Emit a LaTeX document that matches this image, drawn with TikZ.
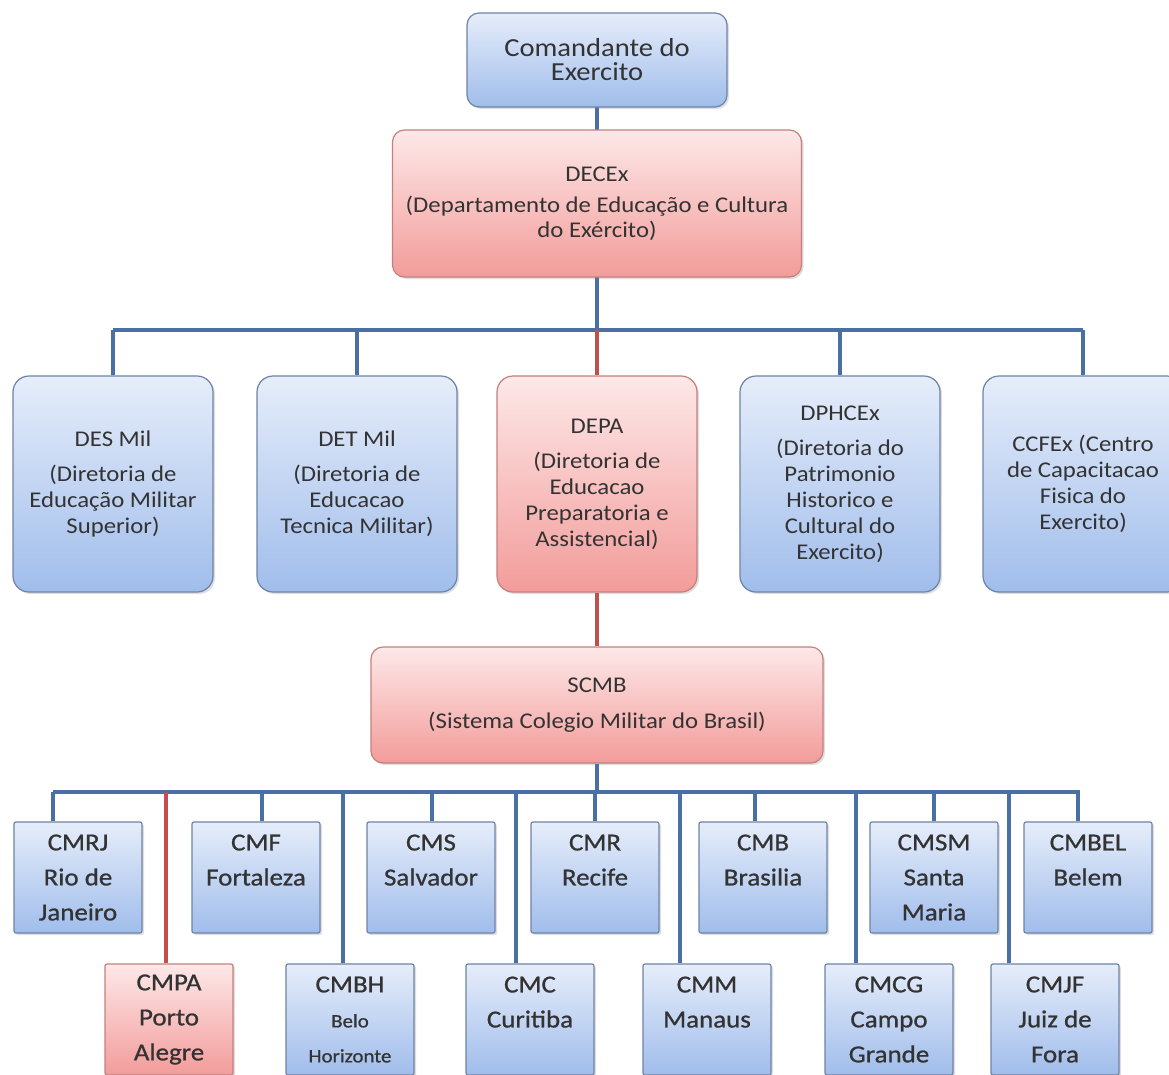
\documentclass[tikz,border=0pt]{standalone}
\usepackage{fontspec}
\setmainfont{Carlito}[FakeStretch=1.1]
\newfontfamily\heavyfont{Carlito}[FakeStretch=1.1, FakeBold=0.8]
\usetikzlibrary{shadows}

\definecolor{lineblue}{HTML}{4A6FA5}
\definecolor{linered}{HTML}{C0504D}
\definecolor{bluetop}{HTML}{E6EDFA}
\definecolor{bluebot}{HTML}{A0BDEB}
\definecolor{blueedge}{HTML}{6E84A6}
\definecolor{redtop}{HTML}{FDE8E8}
\definecolor{redbot}{HTML}{F29C9A}
\definecolor{rededge}{HTML}{C4807E}
\definecolor{ink}{HTML}{333333}

\tikzset{
	box/.style={draw=blueedge, line width=1.2pt, top color=bluetop, bottom color=bluebot,
		text=ink, align=center, inner sep=0pt,
		drop shadow={shadow xshift=2pt, shadow yshift=-2pt, opacity=.25}},
	redbox/.style={box, draw=rededge, top color=redtop, bottom color=redbot},
	headbox/.style={rounded corners=12pt, font={\fontsize{22.5}{25}\selectfont}},
	dirbox/.style={minimum width=200pt, minimum height=216pt, rounded corners=16pt,
		font={\fontsize{22.5}{26}\selectfont}},
	school/.style={minimum width=128pt, minimum height=111pt, rounded corners=2pt,
		font={\heavyfont\fontsize{24.5}{35}\selectfont}},
	link/.style={draw=lineblue, line width=3.5pt},
	redlink/.style={draw=linered, line width=4pt},
}

\begin{document}
\begin{tikzpicture}[x=1pt, y=-1pt]
			%%%%% START %%%%%
			
			\useasboundingbox[fill=white] (0, 0) rectangle (1169, 1074);
			
			\coordinate (bus1w) at (113, 330);
			\coordinate (bus1e) at (1083, 330);
			\coordinate (bus2w) at (53, 792);
			\coordinate (bus2e) at (1080, 792);
			
			% lines first, boxes on top
			\draw[link] (597, 107) -- (597, 130);
			\draw[link] (597, 277) -- (bus1w -| 597, 0);
			\draw[link] (bus1w) -- (bus1e);
			\draw[link] (bus2w) -- (bus2e);
			
			\node[box, headbox, minimum width=260pt, minimum height=94pt,
				font={\fontsize{26}{24}\selectfont}] (cmdte) at (597, 60)
				{Comandante do\\Exercito};
			\node[redbox, headbox, minimum width=409pt, minimum height=147pt] (decex) at (597, 203.5)
				{DECEx\\[6pt](Departamento de Educação e Cultura\\do Exército)};
			
			\node[box, dirbox] (desmil) at (113, 484)
				{DES Mil\\[9pt](Diretoria de\\Educação Militar\\Superior)};
			\node[box, dirbox] (detmil) at (357, 484)
				{DET Mil\\[9pt](Diretoria de\\Educacao\\Tecnica Militar)};
			\node[redbox, dirbox] (depa) at (597, 484)
				{DEPA\\[9pt](Diretoria de\\Educacao\\Preparatoria e\\Assistencial)};
			\node[box, dirbox] (dphcex) at (840, 484)
				{DPHCEx\\[9pt](Diretoria do\\Patrimonio\\Historico e\\Cultural do\\Exercito)};
			\node[box, dirbox] (ccfex) at (1083, 484)
				{CCFEx (Centro\\de Capacitacao\\Fisica do\\Exercito)};
			
			\node[redbox, headbox, minimum width=452pt, minimum height=116pt] (scmb) at (597, 705)
				{SCMB\\[11pt](Sistema Colegio Militar do Brasil)};
			
			% colegios, first row
			\node[box, school] (cmrj) at (78, 877.5) {CMRJ\\Rio de\\Janeiro};
			\node[box, school] (cmf) at (256, 877.5) {CMF\\Fortaleza\\~};
			\node[box, school] (cms) at (431, 877.5) {CMS\\Salvador\\~};
			\node[box, school] (cmr) at (595, 877.5) {CMR\\Recife\\~};
			\node[box, school] (cmb) at (763, 877.5) {CMB\\Brasilia\\~};
			\node[box, school] (cmsm) at (934, 877.5) {CMSM\\Santa\\Maria};
			\node[box, school] (cmbel) at (1088, 877.5) {CMBEL\\Belem\\~};
			
			% colegios, second row
			\node[redbox, school] (cmpa) at (169, 1019.5) {CMPA\\Porto\\Alegre};
			\node[box, school] (cmbh) at (350, 1019.5)
				{CMBH\\{\fontsize{19}{35}\selectfont Belo}\\{\fontsize{19}{30}\selectfont Horizonte}};
			\node[box, school] (cmc) at (530, 1019.5) {CMC\\Curitiba\\~};
			\node[box, school] (cmm) at (707, 1019.5) {CMM\\Manaus\\~};
			\node[box, school] (cmcg) at (889, 1019.5) {CMCG\\Campo\\Grande};
			\node[box, school] (cmjf) at (1055, 1019.5) {CMJF\\Juiz de\\Fora};
			
			% connectors
			\foreach \n in {desmil, detmil, dphcex, ccfex}
				\draw[link] (\n.north) -- (\n.north |- bus1w);
			\draw[redlink] (depa.north |- bus1w) -- (depa.north);
			\draw[redlink] (depa.south) -- (scmb.north);
			\draw[link] (scmb.south) -- (scmb.south |- bus2w);
			
			\foreach \n/\dx in {cmrj/-25, cmf/6, cms/1, cmr/0, cmb/-8, cmsm/0, cmbel/-10,
					cmbh/-7, cmc/-14, cmm/-27, cmcg/-33, cmjf/-46}
				\draw[link] ([xshift=\dx pt]\n.north) -- ([xshift=\dx pt]\n.north |- bus2w);
			\draw[redlink] ([xshift=-3pt]cmpa.north) -- ([xshift=-3pt]cmpa.north |- bus2w);
			
			%%%%% END %%%%%
\end{tikzpicture}
\end{document}
